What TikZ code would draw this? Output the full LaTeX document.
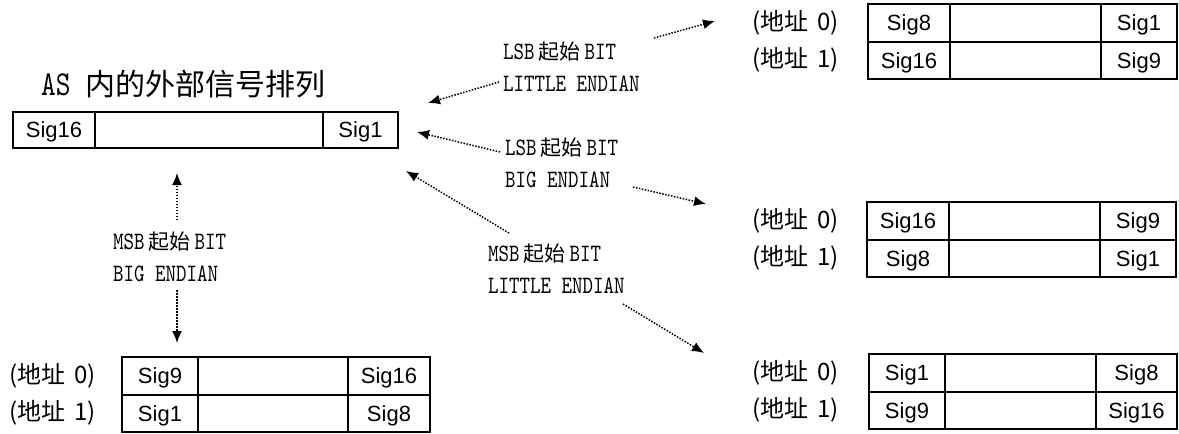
\documentclass[tikz,border=0pt]{standalone}
\usepackage{fontspec}
\usetikzlibrary{positioning, arrows.meta}
\setmainfont{Liberation Sans}
\newfontfamily\cjk{Noto Sans CJK SC}
\newfontfamily\mono[FakeStretch=0.8]{lmmono10-regular.otf}
\newcommand{\zh}[1]{\hspace{4pt}{\cjk\fontsize{21}{32}\selectfont #1}\hspace{4pt}}

\begin{document}
\begin{tikzpicture}[x=1pt, y=-1pt,
    cell/.style={draw, line width=2pt, inner sep=0pt, outer sep=0pt, minimum height=37.5pt, text depth=0pt, font=\fontsize{22}{24}\selectfont},
    addr/.style={inner sep=0pt, font=\cjk\fontsize{24}{26}\selectfont},
    note/.style={align=left, inner sep=0pt, anchor=west, font=\mono\fontsize{25}{32}\selectfont},
    flow/.style={line width=1.5pt, dash pattern=on 1.5pt off 1.5pt, -{Latex[length=12pt, width=10pt]}}]
    \useasboundingbox (0,0) rectangle (1179,434);

    % register inside the AS
    \node[anchor=west, inner sep=0pt] (title) at (41,84) {{\mono\fontsize{35}{38}\selectfont AS }{\cjk\fontsize{30}{38}\selectfont 内的外部信号排列}};
    \node[cell, anchor=north west, minimum width=82pt, minimum height=36pt] (as1) at (13,112) {Sig16};
    \node[cell, right=0pt of as1, minimum width=228pt, minimum height=36pt] (as2) {};
    \node[cell, right=0pt of as2, minimum width=75pt, minimum height=36pt] (as3) {Sig1};

    % LSB first, little endian
    \node[cell, anchor=north west, minimum width=82pt] (tr0a) at (868,4) {Sig8};
    \node[cell, right=0pt of tr0a, minimum width=151pt] (tr0b) {};
    \node[cell, right=0pt of tr0b, minimum width=76pt] (tr0c) {Sig1};
    \node[cell, below=0pt of tr0a, minimum width=82pt] (tr1a) {Sig16};
    \node[cell, below=0pt of tr0b, minimum width=151pt] (tr1b) {};
    \node[cell, below=0pt of tr0c, minimum width=76pt] (tr1c) {Sig9};
    \node[addr, left=29pt of tr0a] (tr0lbl) {(地址\hspace{9pt}0)};
    \node[addr, left=29pt of tr1a] (tr1lbl) {(地址\hspace{9pt}1)};

    % LSB first, big endian
    \node[cell, anchor=north west, minimum width=82pt] (mr0a) at (867,202) {Sig16};
    \node[cell, right=0pt of mr0a, minimum width=151pt] (mr0b) {};
    \node[cell, right=0pt of mr0b, minimum width=76pt] (mr0c) {Sig9};
    \node[cell, below=0pt of mr0a, minimum width=82pt] (mr1a) {Sig8};
    \node[cell, below=0pt of mr0b, minimum width=151pt] (mr1b) {};
    \node[cell, below=0pt of mr0c, minimum width=76pt] (mr1c) {Sig1};
    \node[addr, left=28pt of mr0a] (mr0lbl) {(地址\hspace{9pt}0)};
    \node[addr, left=28pt of mr1a] (mr1lbl) {(地址\hspace{9pt}1)};

    % MSB first, little endian
    \node[cell, anchor=north west, minimum width=76pt] (br0a) at (869,354) {Sig1};
    \node[cell, right=0pt of br0a, minimum width=151pt] (br0b) {};
    \node[cell, right=0pt of br0b, minimum width=81pt] (br0c) {Sig8};
    \node[cell, below=0pt of br0a, minimum width=76pt] (br1a) {Sig9};
    \node[cell, below=0pt of br0b, minimum width=151pt] (br1b) {};
    \node[cell, below=0pt of br0c, minimum width=81pt] (br1c) {Sig16};
    \node[addr, left=30pt of br0a] (br0lbl) {(地址\hspace{9pt}0)};
    \node[addr, left=30pt of br1a] (br1lbl) {(地址\hspace{9pt}1)};

    % MSB first, big endian
    \node[cell, anchor=north west, minimum width=76pt] (bl0a) at (122,357) {Sig9};
    \node[cell, right=0pt of bl0a, minimum width=150pt] (bl0b) {};
    \node[cell, right=0pt of bl0b, minimum width=82pt] (bl0c) {Sig16};
    \node[cell, below=0pt of bl0a, minimum width=76pt] (bl1a) {Sig1};
    \node[cell, below=0pt of bl0b, minimum width=150pt] (bl1b) {};
    \node[cell, below=0pt of bl0c, minimum width=82pt] (bl1c) {Sig8};
    \node[addr, left=26pt of bl0a] (bl0lbl) {(地址\hspace{9pt}0)};
    \node[addr, left=26pt of bl1a] (bl1lbl) {(地址\hspace{9pt}1)};

    % mode notes
    \node[note] (lsbLittle) at (503,67) {LSB\zh{起始}BIT\\LITTLE ENDIAN};
    \node[note] (lsbBig) at (505,163) {LSB\zh{起始}BIT\\BIG ENDIAN};
    \node[note] (msbLittle) at (488,269) {MSB\zh{起始}BIT\\LITTLE ENDIAN};
    \node[note] (msbBig) at (113,257) {MSB\zh{起始}BIT\\BIG ENDIAN};

    % arrow ends
    \coordinate (lsbLittleOut) at (654,38);  \coordinate (trIn) at (715,21);
    \coordinate (lsbLittleBack) at (499,82); \coordinate (asInA) at (428,103);
    \coordinate (lsbBigBack) at (500,152);   \coordinate (asInB) at (417,132);
    \coordinate (lsbBigOut) at (633,187);    \coordinate (mrIn) at (706,204);
    \coordinate (msbLittleBack) at (509,233); \coordinate (asInC) at (406,171);
    \coordinate (msbLittleOut) at (623,304); \coordinate (brIn) at (704,353);
    \coordinate (msbBigUp) at (177,220);     \coordinate (asInD) at (177,173);
    \coordinate (msbBigDown) at (177,290);   \coordinate (blIn) at (177,343);

    \draw[flow] (lsbLittleOut) -- (trIn);
    \draw[flow] (lsbLittleBack) -- (asInA);
    \draw[flow] (lsbBigBack) -- (asInB);
    \draw[flow] (lsbBigOut) -- (mrIn);
    \draw[flow] (msbLittleBack) -- (asInC);
    \draw[flow] (msbLittleOut) -- (brIn);
    \draw[flow] (msbBigUp) -- (asInD);
    \draw[flow] (msbBigDown) -- (blIn);
\end{tikzpicture}
\end{document}
